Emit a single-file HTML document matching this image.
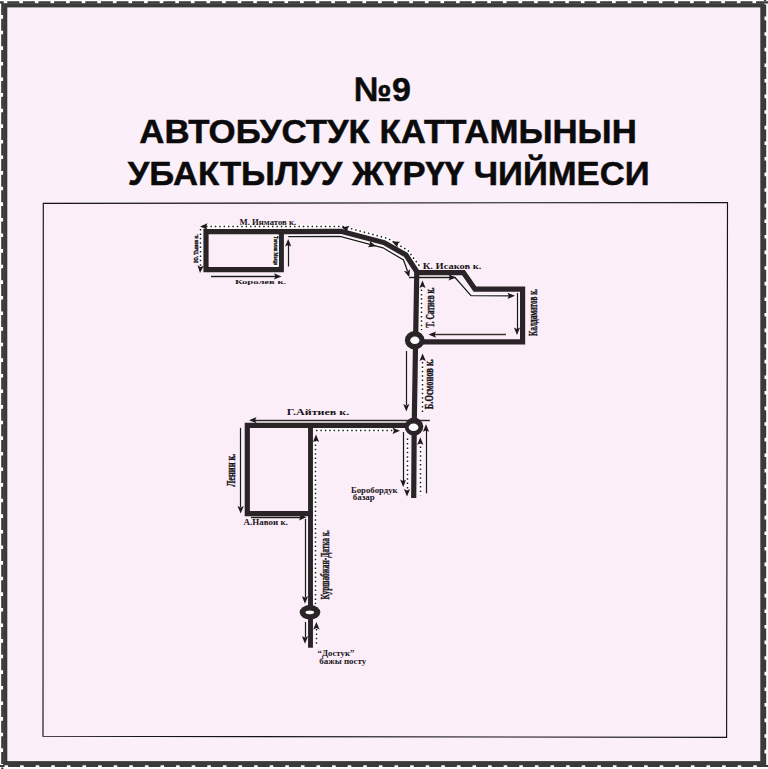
<!DOCTYPE html>
<html><head><meta charset="utf-8">
<style>
html,body{margin:0;padding:0;background:#fbeff9;}
body{width:768px;height:769px;overflow:hidden;position:relative;}
svg{position:absolute;left:0;top:0;display:block;}
.t{font-family:"Liberation Sans",sans-serif;font-weight:bold;fill:#0b0b0b;stroke:#0b0b0b;stroke-width:0.5;}
.l{font-family:"Liberation Serif",serif;font-weight:bold;fill:#1a1719;stroke:none;}
.r{font-family:"Liberation Serif",serif;font-weight:bold;fill:#1a1719;stroke:#1a1719;stroke-width:0.4;}
.rd{fill:none;stroke:#2a2426;stroke-linejoin:miter;stroke-linecap:square;}
.th{fill:none;stroke:#1e1a1c;stroke-width:1.2;}
.dt{fill:none;stroke:#1e1a1c;stroke-width:1.4;stroke-dasharray:1.4 2.8;}
.ar{fill:#1e1a1c;}
</style></head>
<body>
<svg width="768" height="769" viewBox="0 0 768 769">
  <!-- outer dashed border -->
  <rect x="0" y="0" width="768" height="769" fill="#ffffff"/>
  <rect x="5.2" y="5.3" width="757.2" height="757.9" fill="#fbeff9" stroke="#3a3a3a" stroke-width="4.2"/>
  <g stroke="#3a3a3a" stroke-width="2.2" stroke-dasharray="12 3.6" fill="none">
    <line x1="0" y1="2.3" x2="768" y2="2.3" stroke-dashoffset="8.3"/>
    <line x1="2.3" y1="0" x2="2.3" y2="769" stroke-dashoffset="12.5"/>
    <line x1="765.1" y1="0" x2="765.1" y2="769" stroke-dashoffset="11"/>
    <line x1="0" y1="766" x2="768" y2="766" stroke-dashoffset="7.5"/>
  </g>

  <!-- title -->
  <text class="t" x="382.5" y="101.2" font-size="34" text-anchor="middle">№9</text>
  <text class="t" x="139.3" y="142.8" font-size="34" textLength="497.5" lengthAdjust="spacingAndGlyphs">АВТОБУСТУК КАТТАМЫНЫН</text>
  <text class="t" x="127.8" y="184.7" font-size="34" textLength="521.8" lengthAdjust="spacingAndGlyphs">УБАКТЫЛУУ ЖҮРҮҮ ЧИЙМЕСИ</text>

  <!-- map box -->
  <polygon points="43.3,203.3 727.5,202.5 726.6,737.3 43,736.3" fill="#fbeef9" stroke="#141414" stroke-width="1.15"/>
<!--MAP-->
<path d="M206.0,226.5 L343.0,226.5 L388.0,238.5 L408.0,250.5 L419.5,266.0" fill="none" stroke="#ffffff" stroke-width="3.6"/>
<path d="M206.0,226.5 L343.0,226.5 L388.0,238.5 L408.0,250.5 L419.5,266.0" fill="none" stroke="#1e1a1c" stroke-width="1.5" stroke-dasharray="1.5 2.9"/>
<polygon class="ar" points="200.0,226.5 207.5,223.3 206.1,226.5 207.5,229.7" fill="#1e1a1c"/>
<polygon class="ar" points="341.5,227.2 349.6,226.1 347.4,228.8 347.9,232.2" fill="#1e1a1c"/>
<polygon class="ar" points="392.0,241.5 400.1,241.8 397.5,244.1 397.5,247.5" fill="#1e1a1c"/>
<path d="M200.5,229.0 L200.5,267.0" fill="none" stroke="#ffffff" stroke-width="3.6"/>
<path d="M200.5,229.0 L200.5,267.0" fill="none" stroke="#1e1a1c" stroke-width="1.5" stroke-dasharray="1.5 2.9"/>
<polygon class="ar" points="200.0,273.0 197.5,265.3 200.5,266.9 203.8,265.8" fill="#1e1a1c"/>
<path d="M211.0,276.5 L276.0,276.5" fill="none" stroke="#ffffff" stroke-width="3.2" stroke-opacity="0.85"/>
<path d="M211.0,276.5 L276.0,276.5" fill="none" stroke="#1e1a1c" stroke-width="1.3"/>
<polygon class="ar" points="281.5,276.4 274.0,279.5 275.4,276.4 274.0,273.2" fill="#1e1a1c"/>
<path d="M288.5,266.5 L288.5,244.0" fill="none" stroke="#ffffff" stroke-width="3.2" stroke-opacity="0.85"/>
<path d="M288.5,266.5 L288.5,244.0" fill="none" stroke="#1e1a1c" stroke-width="1.3"/>
<polygon class="ar" points="288.2,239.0 291.3,246.5 288.2,245.1 285.1,246.5" fill="#1e1a1c"/>
<path d="M288.2,236.6 L340.0,236.4 L383.0,247.8 L403.5,260.0 L407.5,271.0" fill="none" stroke="#ffffff" stroke-width="3.2" stroke-opacity="0.85"/>
<path d="M288.2,236.6 L340.0,236.4 L383.0,247.8 L403.5,260.0 L407.5,271.0" fill="none" stroke="#1e1a1c" stroke-width="1.3"/>
<polygon class="ar" points="376.0,246.2 367.9,247.2 370.1,244.5 369.7,241.1" fill="#1e1a1c"/>
<polygon class="ar" points="409.3,277.3 404.0,271.1 407.4,271.5 410.0,269.2" fill="#1e1a1c"/>
<path d="M409.0,277.5 L455.0,277.5 L471.0,295.6 L512.0,295.8" fill="none" stroke="#ffffff" stroke-width="3.2" stroke-opacity="0.85"/>
<path d="M409.0,277.5 L455.0,277.5 L471.0,295.6 L512.0,295.8" fill="none" stroke="#1e1a1c" stroke-width="1.3"/>
<polygon class="ar" points="456.0,277.4 448.5,280.5 449.9,277.4 448.5,274.2" fill="#1e1a1c"/>
<polygon class="ar" points="515.0,295.8 507.5,298.9 508.9,295.8 507.5,292.7" fill="#1e1a1c"/>
<path d="M517.5,293.0 L517.5,329.0" fill="none" stroke="#ffffff" stroke-width="3.2" stroke-opacity="0.85"/>
<path d="M517.5,293.0 L517.5,329.0" fill="none" stroke="#1e1a1c" stroke-width="1.3"/>
<polygon class="ar" points="517.0,335.0 513.9,327.5 517.0,328.9 520.1,327.5" fill="#1e1a1c"/>
<path d="M506.0,334.5 L434.0,334.5" fill="none" stroke="#ffffff" stroke-width="3.2" stroke-opacity="0.85"/>
<path d="M506.0,334.5 L434.0,334.5" fill="none" stroke="#3a2a28" stroke-width="1.3"/>
<polygon class="ar" points="428.5,334.6 436.0,331.5 434.6,334.6 436.0,337.8" fill="#1e1a1c"/>
<path d="M421.5,289.5 L421.5,330.0" fill="none" stroke="#ffffff" stroke-width="3.6"/>
<path d="M421.5,289.5 L421.5,330.0" fill="none" stroke="#1e1a1c" stroke-width="1.5" stroke-dasharray="1.5 2.9"/>
<polygon class="ar" points="422.5,280.5 425.6,288.0 422.5,286.6 419.4,288.0" fill="#1e1a1c"/>
<path d="M406.5,351.0 L406.5,405.0" fill="none" stroke="#ffffff" stroke-width="3.2" stroke-opacity="0.85"/>
<path d="M406.5,351.0 L406.5,405.0" fill="none" stroke="#1e1a1c" stroke-width="1.3"/>
<polygon class="ar" points="406.3,411.5 403.2,404.0 406.3,405.4 409.4,404.0" fill="#1e1a1c"/>
<path d="M422.5,362.0 L422.5,412.0" fill="none" stroke="#ffffff" stroke-width="3.6"/>
<path d="M422.5,362.0 L422.5,412.0" fill="none" stroke="#1e1a1c" stroke-width="1.5" stroke-dasharray="1.5 2.9"/>
<polygon class="ar" points="422.6,353.4 425.8,360.9 422.6,359.5 419.5,360.9" fill="#1e1a1c"/>
<path d="M429.8,420.5 L254.0,420.5" fill="none" stroke="#ffffff" stroke-width="3.2" stroke-opacity="0.85"/>
<path d="M429.8,420.5 L254.0,420.5" fill="none" stroke="#2a2220" stroke-width="1.3"/>
<polygon class="ar" points="249.0,420.2 256.5,417.1 255.1,420.2 256.5,423.3" fill="#1e1a1c"/>
<path d="M240.5,427.8 L240.5,507.0" fill="none" stroke="#ffffff" stroke-width="3.2" stroke-opacity="0.85"/>
<path d="M240.5,427.8 L240.5,507.0" fill="none" stroke="#1e1a1c" stroke-width="1.3"/>
<polygon class="ar" points="240.7,513.5 237.5,506.0 240.7,507.4 243.8,506.0" fill="#1e1a1c"/>
<path d="M251.0,517.5 L301.0,517.5" fill="none" stroke="#ffffff" stroke-width="3.2" stroke-opacity="0.85"/>
<path d="M251.0,517.5 L301.0,517.5" fill="none" stroke="#1e1a1c" stroke-width="1.3"/>
<polygon class="ar" points="306.5,517.3 299.0,520.4 300.4,517.3 299.0,514.1" fill="#1e1a1c"/>
<path d="M305.5,519.0 L305.5,597.0" fill="none" stroke="#ffffff" stroke-width="3.2" stroke-opacity="0.85"/>
<path d="M305.5,519.0 L305.5,597.0" fill="none" stroke="#1e1a1c" stroke-width="1.3"/>
<polygon class="ar" points="305.0,603.7 301.9,596.2 305.0,597.6 308.1,596.2" fill="#1e1a1c"/>
<path d="M305.5,622.0 L305.5,637.0" fill="none" stroke="#ffffff" stroke-width="3.2" stroke-opacity="0.85"/>
<path d="M305.5,622.0 L305.5,637.0" fill="none" stroke="#1e1a1c" stroke-width="1.3"/>
<polygon class="ar" points="305.0,643.7 301.9,636.2 305.0,637.6 308.1,636.2" fill="#1e1a1c"/>
<path d="M316.0,430.5 L394.0,430.5" fill="none" stroke="#ffffff" stroke-width="3.6"/>
<path d="M316.0,430.5 L394.0,430.5" fill="none" stroke="#1e1a1c" stroke-width="1.5" stroke-dasharray="1.5 2.9"/>
<polygon class="ar" points="400.0,430.8 392.5,433.9 393.9,430.8 392.5,427.7" fill="#1e1a1c"/>
<path d="M315.5,440.0 L315.5,604.0" fill="none" stroke="#ffffff" stroke-width="3.6"/>
<path d="M315.5,440.0 L315.5,604.0" fill="none" stroke="#1e1a1c" stroke-width="1.5" stroke-dasharray="1.5 2.9"/>
<polygon class="ar" points="316.0,434.4 319.1,441.9 316.0,440.5 312.9,441.9" fill="#1e1a1c"/>
<path d="M316.5,629.0 L316.5,646.0" fill="none" stroke="#ffffff" stroke-width="3.6"/>
<path d="M316.5,629.0 L316.5,646.0" fill="none" stroke="#1e1a1c" stroke-width="1.5" stroke-dasharray="1.5 2.9"/>
<polygon class="ar" points="316.4,621.9 319.5,629.4 316.4,628.0 313.2,629.4" fill="#1e1a1c"/>
<path d="M403.5,432.0 L403.5,481.0" fill="none" stroke="#ffffff" stroke-width="3.2" stroke-opacity="0.85"/>
<path d="M403.5,432.0 L403.5,481.0" fill="none" stroke="#1e1a1c" stroke-width="1.3"/>
<polygon class="ar" points="403.2,487.0 400.1,479.5 403.2,480.9 406.3,479.5" fill="#1e1a1c"/>
<path d="M407.5,438.6 L407.5,490.0" fill="none" stroke="#ffffff" stroke-width="3.6"/>
<path d="M407.5,438.6 L407.5,490.0" fill="none" stroke="#1e1a1c" stroke-width="1.5" stroke-dasharray="1.5 2.9"/>
<polygon class="ar" points="407.0,496.6 403.9,489.1 407.0,490.5 410.1,489.1" fill="#1e1a1c"/>
<path d="M420.5,446.5 L420.5,495.3" fill="none" stroke="#ffffff" stroke-width="3.6"/>
<path d="M420.5,446.5 L420.5,495.3" fill="none" stroke="#1e1a1c" stroke-width="1.5" stroke-dasharray="1.5 2.9"/>
<polygon class="ar" points="420.3,437.3 423.4,444.8 420.3,443.4 417.2,444.8" fill="#1e1a1c"/>
<path d="M426.5,493.3 L426.5,430.0" fill="none" stroke="#ffffff" stroke-width="3.2" stroke-opacity="0.85"/>
<path d="M426.5,493.3 L426.5,430.0" fill="none" stroke="#1e1a1c" stroke-width="1.3"/>
<polygon class="ar" points="426.0,424.3 429.1,431.8 426.0,430.4 422.9,431.8" fill="#1e1a1c"/>
<path d="M206.0,231.6 L281.3,231.6 L281.3,269.7 L206.0,269.7 Z" fill="none" stroke="#2a2426" stroke-width="5.2" stroke-linejoin="miter" stroke-linecap="butt"/>
<path d="M281.3,231.6 L341.0,231.3 L384.0,242.6 L406.0,255.0 L416.7,271.5" fill="none" stroke="#2a2426" stroke-width="5.2" stroke-linejoin="miter" stroke-linecap="butt"/>
<path d="M416.8,270.0 L415.6,340.0 L414.2,427.0 L413.7,498.0" fill="none" stroke="#2a2426" stroke-width="5.2" stroke-linejoin="miter" stroke-linecap="butt"/>
<path d="M416.8,272.7 L463.5,272.7 L475.0,289.2 L522.6,289.2 L522.6,341.8 L415.0,341.8" fill="none" stroke="#2a2426" stroke-width="5.2" stroke-linejoin="miter" stroke-linecap="butt"/>
<path d="M414.0,425.4 L247.3,425.4 L247.3,513.6 L313.0,513.6" fill="none" stroke="#2a2426" stroke-width="5.2" stroke-linejoin="miter" stroke-linecap="butt"/>
<path d="M310.5,425.4 L310.5,647.8" fill="none" stroke="#2a2426" stroke-width="4.9" stroke-linejoin="miter" stroke-linecap="butt"/>
<ellipse cx="414.7" cy="340.2" rx="9.8" ry="9.2" fill="#2a2426"/>
<ellipse cx="414.85" cy="340.35" rx="4.6" ry="3.75" fill="#fdfafd"/>
<ellipse cx="414.0" cy="426.6" rx="9.3" ry="9.1" fill="#2a2426"/>
<ellipse cx="413.55" cy="427.35" rx="4.85" ry="3.75" fill="#fdfafd"/>
<ellipse cx="310.0" cy="612.3" rx="10.3" ry="7.3" fill="#2a2426"/>
<ellipse cx="309.8" cy="612.3" rx="4.3" ry="1.9" fill="#fdfafd"/>
<text class="l" x="239.6" y="224.8" font-size="8.3" textLength="56.5" lengthAdjust="spacingAndGlyphs">М. Инматов к.</text>
<text class="l" x="234.9" y="283.8" font-size="7.0" textLength="51.3" lengthAdjust="spacingAndGlyphs">Королев к.</text>
<text class="l" x="422.8" y="269.2" font-size="7.4" textLength="58.6" lengthAdjust="spacingAndGlyphs">К. Исаков к.</text>
<text class="l" x="286.8" y="415.3" font-size="9.0" textLength="62.4" lengthAdjust="spacingAndGlyphs">Г.Айтиев к.</text>
<text class="l" x="243.6" y="525.2" font-size="7.6" textLength="44.2" lengthAdjust="spacingAndGlyphs">А.Навои к.</text>
<text class="l" x="350.9" y="492.5" font-size="7.2" textLength="46.8" lengthAdjust="spacingAndGlyphs">Боробордук</text>
<text class="l" x="352.8" y="500.2" font-size="7.2" textLength="21.8" lengthAdjust="spacingAndGlyphs">базар</text>
<text class="l" x="317.6" y="656.1" font-size="8.3" textLength="36.8" lengthAdjust="spacingAndGlyphs">“Достук”</text>
<text class="l" x="319.3" y="664.2" font-size="8.6" textLength="47.0" lengthAdjust="spacingAndGlyphs">бажы посту</text>
<text class="r" transform="translate(198.2 262.8) rotate(-90)" font-size="6.8" textLength="28.5" lengthAdjust="spacingAndGlyphs">Ю. Тынов к.</text>
<rect x="272.6" y="235" width="6.2" height="31.5" fill="#ffffff"/>
<text class="r" transform="translate(274.2 236.0) rotate(90)" font-size="7.0" textLength="29.2" lengthAdjust="spacingAndGlyphs">Тоголок Молдо</text>
<text class="r" transform="translate(433.9 327.5) rotate(-90)" font-size="11.5" textLength="40.2" lengthAdjust="spacingAndGlyphs">Т. Сатиев к.</text>
<text class="r" transform="translate(536.8 335.9) rotate(-90)" font-size="12.5" textLength="47.0" lengthAdjust="spacingAndGlyphs">Калдаматов к.</text>
<text class="r" transform="translate(433.3 409.2) rotate(-90)" font-size="11.5" textLength="50.0" lengthAdjust="spacingAndGlyphs">Б.Осмонов к.</text>
<text class="r" transform="translate(235.4 486.8) rotate(-90)" font-size="12.5" textLength="33.2" lengthAdjust="spacingAndGlyphs">Ленин к.</text>
<text class="r" transform="translate(329.3 599.6) rotate(-90)" font-size="12.5" textLength="69.5" lengthAdjust="spacingAndGlyphs">Куршабжан-Датка к.</text>
<!--/MAP-->
</svg>
</body></html>
